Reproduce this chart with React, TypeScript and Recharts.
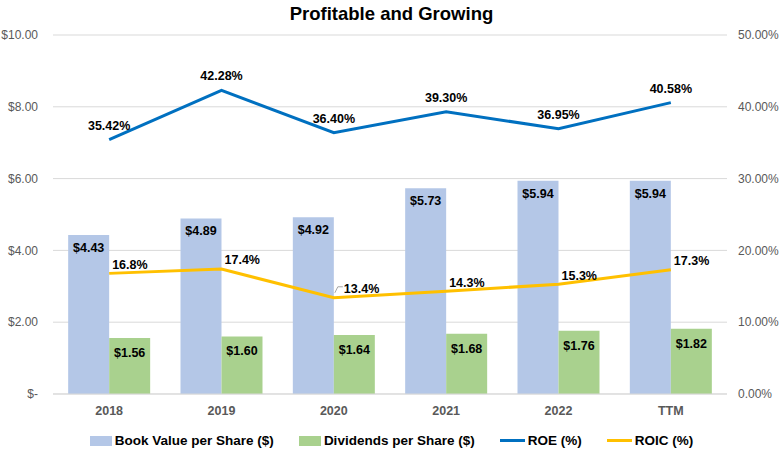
import { ComposedChart, Bar, Line, XAxis, YAxis, CartesianGrid, Legend, LabelList } from 'recharts';

const years = ['2018', '2019', '2020', '2021', '2022', 'TTM'];
const bookValue = [4.43, 4.89, 4.92, 5.73, 5.94, 5.94];
const dividends = [1.56, 1.6, 1.64, 1.68, 1.76, 1.82];
const roe = [35.42, 42.28, 36.4, 39.3, 36.95, 40.58];
const roic = [16.8, 17.4, 13.4, 14.3, 15.3, 17.3];

const leftTicks = [0, 2, 4, 6, 8, 10];
const rightTicks = [0, 10, 20, 30, 40, 50];

const FONT = '"Liberation Sans", Arial, sans-serif';
const GREY = '#595959';

const legendItems = [
  { name: 'Book Value per Share ($)', color: '#B4C7E7', type: 'rect' },
  { name: 'Dividends per Share ($)', color: '#A9D18E', type: 'rect' },
  { name: 'ROE (%)', color: '#0070C0', type: 'line' },
  { name: 'ROIC (%)', color: '#FFC000', type: 'line' },
];

const chartData = years.map((year, i) => ({
  year,
  book: bookValue[i],
  div: dividends[i],
  roe: roe[i],
  roic: roic[i],
}));

const money = (v: number) => (v === 0 ? '$-' : `$${v.toFixed(2)}`);

function RoicLabel(props: any) {
  const { x, y, value, index } = props;
  return (
    <g>
      {index === 2 && (
        <path d={`M${x + 1},${y - 5} L${x + 4},${y - 11} L${x + 9},${y - 11}`} stroke="#A6A6A6" fill="none" />
      )}
      <text x={x + (index === 2 ? 10 : 3)} y={y - 9} dy="0.35em" fontSize={12.5} fontWeight="bold" fill="#000" fontFamily={FONT}>
        {`${value.toFixed(1)}%`}
      </text>
    </g>
  );
}

function ChartLegend() {
  return (
    <div style={{ display: 'flex', justifyContent: 'center', gap: 25, fontFamily: FONT, fontSize: 13.5, fontWeight: 'bold', color: '#000' }}>
      {legendItems.map(item => (
        <div key={item.name} style={{ display: 'flex', alignItems: 'center', gap: 3 }}>
          {item.type === 'rect' ? (
            <span style={{ display: 'inline-block', width: 22, height: 10, background: item.color }} />
          ) : (
            <span style={{ display: 'inline-block', width: 25, height: 3, background: item.color }} />
          )}
          <span>{item.name}</span>
        </div>
      ))}
    </div>
  );
}

export default function App() {
  return (
    <div style={{ position: 'relative', width: 783, height: 456, background: '#fff' }}>
      <style>{`body{margin:0}`}</style>
      <div style={{ position: 'absolute', top: 3, left: 0, width: 783, textAlign: 'center', fontFamily: FONT, fontWeight: 'bold', fontSize: 18.5, color: '#000' }}>
        Profitable and Growing
      </div>
      <ComposedChart
        width={783}
        height={456}
        data={chartData}
        margin={{ top: 35, right: 0, left: 0, bottom: 32 }}
        barCategoryGap="13.5%"
        barGap={0}
      >
        <CartesianGrid vertical={false} stroke="#D9D9D9" yAxisId="left" />
        <XAxis
          dataKey="year"
          height={30}
          axisLine={{ stroke: '#D9D9D9' }}
          tickLine={false}
          tickMargin={6}
          tick={{ fill: GREY, fontSize: 12.5, fontWeight: 'bold', fontFamily: FONT }}
        />
        <YAxis
          yAxisId="left"
          width={53}
          domain={[0, 10]}
          ticks={leftTicks}
          tickFormatter={money}
          axisLine={false}
          tickLine={false}
          tickMargin={9}
          tick={{ fill: GREY, fontSize: 12, fontFamily: FONT }}
        />
        <YAxis
          yAxisId="right"
          orientation="right"
          width={56}
          domain={[0, 50]}
          ticks={rightTicks}
          tickFormatter={(v: number) => `${v.toFixed(2)}%`}
          axisLine={false}
          tickLine={false}
          tickMargin={5}
          tick={{ fill: GREY, fontSize: 12, fontFamily: FONT }}
        />
        <Legend
          verticalAlign="middle"
          align="center"
          layout="horizontal"
          content={() => <ChartLegend />}
          wrapperStyle={{ top: 433, left: 0, width: 783 }}
        />
        <Bar yAxisId="left" dataKey="book" name="Book Value per Share ($)" fill="#B4C7E7" isAnimationActive={false}>
          <LabelList
            dataKey="book"
            position="insideTop"
            offset={8}
            formatter={(v: number) => `$${v.toFixed(2)}`}
            style={{ fill: '#000', fontSize: 12.5, fontWeight: 'bold', fontFamily: FONT }}
          />
        </Bar>
        <Bar yAxisId="left" dataKey="div" name="Dividends per Share ($)" fill="#A9D18E" isAnimationActive={false}>
          <LabelList
            dataKey="div"
            position="insideTop"
            offset={10}
            formatter={(v: number) => `$${v.toFixed(2)}`}
            style={{ fill: '#000', fontSize: 12.5, fontWeight: 'bold', fontFamily: FONT }}
          />
        </Bar>
        <Line yAxisId="right" dataKey="roe" name="ROE (%)" stroke="#0070C0" strokeWidth={3} dot={false} isAnimationActive={false}>
          <LabelList
            dataKey="roe"
            position="top"
            offset={10}
            formatter={(v: number) => `${v.toFixed(2)}%`}
            style={{ fill: '#000', fontSize: 12.5, fontWeight: 'bold', fontFamily: FONT }}
          />
        </Line>
        <Line yAxisId="right" dataKey="roic" name="ROIC (%)" stroke="#FFC000" strokeWidth={3} dot={false} isAnimationActive={false}>
          <LabelList dataKey="roic" content={RoicLabel} />
        </Line>
      </ComposedChart>
    </div>
  );
}
